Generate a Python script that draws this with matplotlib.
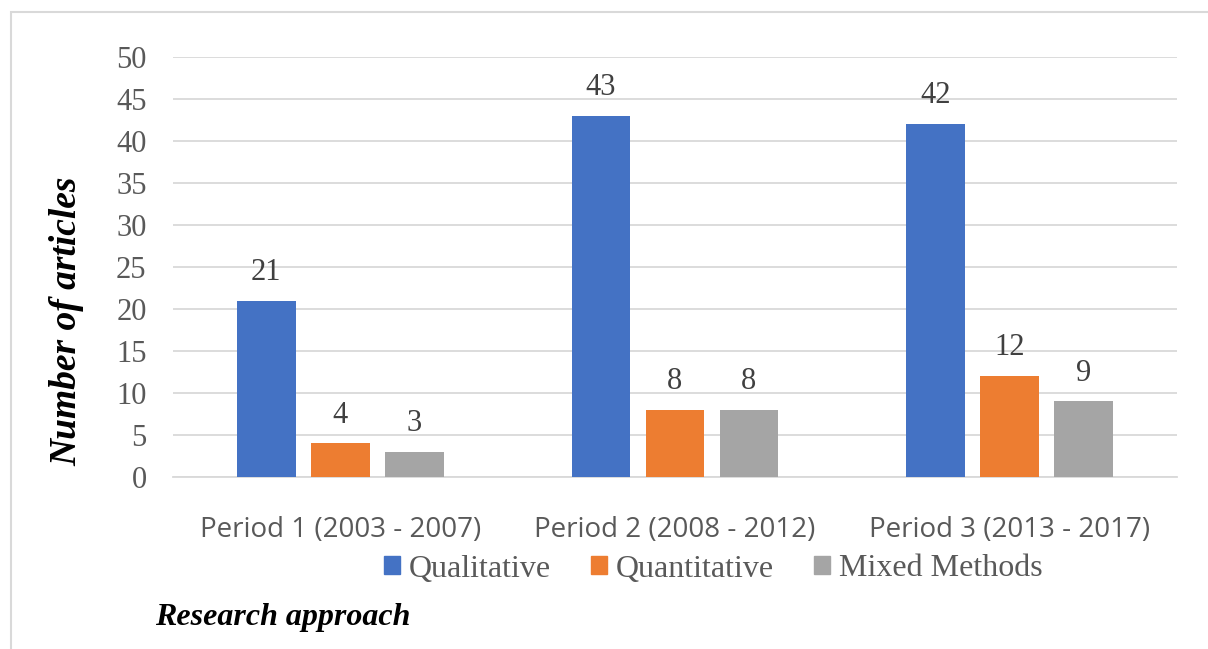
import matplotlib
matplotlib.use("Agg")
import matplotlib.pyplot as plt
import numpy as np
from matplotlib.patches import Rectangle, Patch

periods = ["Period 1 (2003 - 2007)", "Period 2 (2008 - 2012)", "Period 3 (2013 - 2017)"]
series_names = ["Qualitative", "Quantitative", "Mixed Methods"]
qualitative = [21, 43, 42]
quantitative = [4, 8, 12]
mixed = [3, 8, 9]
colors = ["#4472C4", "#ED7D31", "#A5A5A5"]

serif = ["Liberation Serif", "DejaVu Serif"]
text_gray = "#595959"

fig = plt.figure(figsize=(12.08, 6.49), dpi=100)
ax = fig.add_axes([173 / 1208, 1 - 477 / 649, 1004 / 1208, 420 / 649])

# outer chart border
fig.patches.append(Rectangle((11 / 1208, -0.05), 1.1, 1 - 12 / 649 + 0.05,
                             transform=fig.transFigure, fill=False,
                             edgecolor="#d9d9d9", linewidth=1.5))

x = np.arange(len(periods))
width = 0.176
step = 0.221
for i, vals in enumerate([qualitative, quantitative, mixed]):
    bars = ax.bar(x + (i - 1) * step, vals, width, color=colors[i], zorder=3,
                  label=series_names[i])
    for b, v in zip(bars, vals):
        ax.annotate(str(v), (b.get_x() + b.get_width() / 2, v), xytext=(0, 10),
                    textcoords="offset points", ha="center", va="bottom",
                    fontsize=22, family=serif, color="#404040")

ax.set_xlim(-0.5, 2.5)
ax.set_ylim(0, 50)
ax.set_yticks(range(0, 51, 5))
ax.yaxis.grid(True, color="#d9d9d9", linewidth=1.3, zorder=0)
for s in ["top", "right", "left"]:
    ax.spines[s].set_visible(False)
ax.spines["bottom"].set_color("#d9d9d9")
ax.spines["bottom"].set_linewidth(1.3)
ax.tick_params(axis="both", length=0)
ax.tick_params(axis="y", pad=19)
ax.tick_params(axis="x", pad=28)
for t in ax.get_yticklabels():
    t.set_fontfamily(serif)
    t.set_fontsize(22)
    t.set_color(text_gray)
ax.set_xticks(x)
ax.set_xticklabels(periods, fontsize=20, family=["Open Sans", "DejaVu Sans"], color=text_gray)

ax.set_ylabel("Number of articles", fontsize=27, family=serif, style="italic",
              weight="bold", color="black")
ax.yaxis.label.set_va("center")
ax.yaxis.set_label_coords(-0.1056, 0.371)

handles = [Patch(color=c) for c in colors]
fig.legend(handles, series_names, loc="center", bbox_to_anchor=(713 / 1208, 1 - 569 / 649),
           ncol=3, frameon=False, prop={"family": serif, "size": 23},
           handlelength=0.5, handleheight=0.5, handletextpad=0.28, columnspacing=1.25,
           labelcolor=text_gray)

fig.text(155 / 1208, 1 - 618 / 649, "Research approach", fontsize=23, family=serif,
         style="italic", weight="bold", va="center", ha="left")

fig.savefig("out.png", dpi=100)
